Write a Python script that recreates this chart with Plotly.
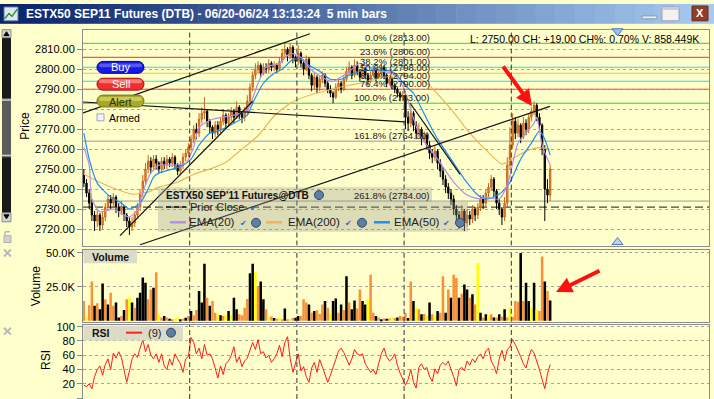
import plotly.graph_objects as go

W, H = 714, 399
FONT = "Liberation Sans, Arial, sans-serif"

# ---------------- data ----------------
title_text = "ESTX50 SEP11 Futures (DTB) - 06/20-06/24 13:13:24\u00a0\u00a05 min bars"
contract_name = "ESTX50 SEP'11 Futures@DTB"
total_volume_k = 858.449
prior_close = 2731

first_open = 2747
closes = [
    # 06/20
    2743, 2738, 2733, 2727, 2724, 2727, 2722, 2726, 2731, 2735,
    2733, 2736, 2731, 2729, 2731, 2727, 2724, 2721, 2723, 2727,
    2731, 2738, 2744, 2750, 2754, 2751, 2755, 2753, 2750, 2754,
    2752, 2755, 2753, 2756, 2752, 2749, 2752, 2756, 2758, 2761,
    # 06/21
    2765, 2770, 2768, 2775, 2778, 2779, 2774, 2771, 2768, 2772,
    2770, 2774, 2777, 2773, 2776, 2779, 2776, 2781, 2778, 2776,
    2779, 2784, 2791, 2797, 2800, 2802, 2798, 2801, 2800, 2803,
    2801, 2802, 2800, 2804, 2808, 2810, 2807, 2811, 2806, 2804,
    # 06/22
    2808, 2803, 2800, 2805, 2797, 2792, 2796, 2791, 2795, 2797,
    2793, 2790, 2788, 2786, 2791, 2793, 2790, 2795, 2799, 2801,
    2797, 2802, 2799, 2796, 2800, 2797, 2794, 2797, 2800, 2796,
    2798, 2801, 2797, 2793, 2795, 2792, 2790, 2788, 2786, 2787,
    # 06/23
    2776, 2773, 2778, 2772, 2768, 2770, 2765, 2767, 2762, 2758,
    2756, 2759, 2753, 2749, 2745, 2741, 2738, 2735, 2730, 2727,
    2725, 2729, 2723, 2727, 2725, 2730, 2727, 2731, 2735, 2733,
    2738, 2741, 2745, 2739, 2733, 2730, 2726, 2733, 2752, 2762,
    # 06/24
    2774, 2768, 2772, 2766, 2773, 2770, 2776, 2779, 2782, 2776,
    2772, 2760, 2740, 2737, 2750,
]
highs = [
    2750, 2745, 2740, 2735, 2729, 2730, 2728, 2729, 2733, 2737,
    2737, 2738, 2737, 2733, 2734, 2732, 2728, 2726, 2726, 2729,
    2733, 2740, 2747, 2753, 2757, 2756, 2757, 2757, 2754, 2756,
    2756, 2757, 2756, 2758, 2757, 2753, 2754, 2758, 2760, 2763,
    2767, 2772, 2773, 2778, 2781, 2786, 2780, 2775, 2772, 2774,
    2774, 2776, 2780, 2778, 2778, 2781, 2780, 2784, 2782, 2779,
    2781, 2787, 2793, 2799, 2803, 2804, 2803, 2803, 2803, 2805,
    2804, 2804, 2803, 2806, 2810, 2813, 2811, 2813, 2812, 2807,
    2812, 2809, 2805, 2807, 2806, 2798, 2798, 2797, 2797, 2799,
    2798, 2794, 2792, 2789, 2793, 2795, 2794, 2797, 2801, 2804,
    2802, 2805, 2804, 2800, 2802, 2801, 2798, 2799, 2802, 2801,
    2800, 2803, 2802, 2798, 2797, 2796, 2793, 2791, 2789, 2789,
    2789, 2779, 2782, 2779, 2774, 2773, 2771, 2769, 2768, 2764,
    2760, 2762, 2760, 2755, 2751, 2747, 2743, 2740, 2737, 2732,
    2729, 2732, 2730, 2730, 2729, 2732, 2731, 2733, 2737, 2737,
    2740, 2743, 2747, 2746, 2740, 2735, 2731, 2736, 2756, 2771,
    2778, 2776, 2775, 2773, 2776, 2775, 2778, 2781, 2784, 2783,
    2778, 2773, 2762, 2745, 2752,
]
lows = [
    2741, 2736, 2730, 2724, 2719, 2721, 2719, 2720, 2724, 2729,
    2730, 2731, 2728, 2726, 2727, 2724, 2721, 2717, 2719, 2721,
    2725, 2729, 2736, 2742, 2748, 2748, 2749, 2750, 2748, 2748,
    2750, 2750, 2751, 2751, 2750, 2747, 2747, 2750, 2754, 2756,
    2759, 2763, 2765, 2766, 2773, 2775, 2771, 2768, 2765, 2766,
    2767, 2768, 2772, 2770, 2771, 2774, 2773, 2775, 2775, 2773,
    2774, 2777, 2782, 2789, 2795, 2798, 2796, 2797, 2798, 2798,
    2799, 2799, 2798, 2799, 2803, 2806, 2804, 2805, 2803, 2801,
    2802, 2801, 2797, 2799, 2795, 2789, 2790, 2788, 2789, 2793,
    2791, 2788, 2786, 2783, 2785, 2789, 2788, 2789, 2794, 2797,
    2795, 2796, 2797, 2794, 2795, 2795, 2792, 2793, 2796, 2794,
    2795, 2797, 2795, 2791, 2792, 2790, 2788, 2786, 2784, 2784,
    2770, 2769, 2771, 2769, 2765, 2766, 2762, 2763, 2760, 2755,
    2753, 2754, 2750, 2746, 2742, 2738, 2735, 2732, 2727, 2723,
    2720, 2723, 2719, 2721, 2722, 2723, 2724, 2725, 2729, 2730,
    2731, 2736, 2739, 2736, 2730, 2727, 2722, 2724, 2731, 2750,
    2760, 2765, 2766, 2763, 2765, 2767, 2768, 2774, 2777, 2774,
    2769, 2757, 2724, 2733, 2734,
]
volume_k = [
    14.6, 3, 11.4, 29, 11, 13, 8.5, 27.5, 15.8, 12,
    20.7, 11, 13.4, 2.4, 3.6, 8, 15.8, 17, 13.4, 9.7,
    17, 20.7, 32, 28, 15.8, 23, 24.3, 35.8, 4.9, 2.4,
    3.6, 2.4, 1.5, 1.2, 1.5, 2.4, 1.2, 1.5, 2.2, 3.6,
    7.3, 4.1, 8, 21.9, 13.4, 42, 17, 11, 14.6, 6,
    4.9, 4, 3.6, 4.5, 7.3, 4.1, 17, 8.5, 4.9, 4,
    9.7, 16, 35, 42, 35.8, 25.5, 29, 15.8, 8.5, 2.4,
    3.2, 2, 1.5, 2.4, 1.2, 9, 1.2, 1.5, 2, 2.2,
    3.6, 3.6, 15.8, 13.4, 12, 6, 7.3, 7.8, 5, 12,
    14.6, 9.7, 5, 14.6, 16.5, 6, 12, 8, 32.8, 13.4,
    8.5, 15, 9, 23, 14.6, 12, 15.8, 34, 6, 3.6,
    2.4, 1.2, 1.7, 1.5, 1.7, 2.4, 2, 2.4, 3.6, 3,
    6, 2, 29, 14.6, 9.7, 8.5, 4.9, 5, 3.6, 13.4,
    4.9, 3.6, 7.3, 6, 32.8, 6, 23, 17, 34, 31.6,
    17, 20, 26.8, 23, 17, 19.5, 12, 42.6, 6, 2.4,
    4.9, 3.6, 4.9, 2.4, 2.4, 4.9, 3, 8.5, 2.4, 10,
    3, 14.6, 14, 50, 14.6, 28, 14.6, 9.7, 28, 8,
    7.3, 47.4, 29, 22, 15,
]
# o = orange, k = black, y = yellow volume bar
volume_kind = list((
    "oyook okkok ookko koyko kkkko okoyo kokoy ykoko "
    "kookk kokoo ykoyk ykkoo ookky okkoy okoyo koyok "
    "koook okooo koykk okoko kkook kyook okoko yokoo "
    "okoky okoyk oykoo kokoo kokko koyko kyoko kokoy "
    "oooko kkyky ookok").replace(" ", ""))
rsi9 = [
    18, 16, 20, 13, 30, 40, 45, 32, 47, 55, 40, 63, 56, 65, 57, 38, 22, 38, 55, 62,
    57, 70, 82, 65, 75, 60, 55, 62, 50, 62, 45, 40, 55, 46, 62, 55, 48, 36, 55, 58,
    85, 78, 62, 70, 55, 75, 60, 62, 55, 42, 28, 45, 33, 48, 52, 60, 72, 50, 58, 44,
    52, 56, 68, 78, 68, 82, 62, 65, 56, 60, 50, 55, 62, 74, 58, 78, 86, 55, 36, 50,
    62, 38, 44, 30, 22, 42, 50, 36, 54, 44, 34, 22, 32, 42, 54, 66, 70, 64, 55, 46,
    55, 68, 62, 60, 62, 48, 42, 36, 40, 33, 48, 62, 70, 58, 52, 55, 62, 46, 35, 26,
    18, 26, 40, 22, 14, 43, 48, 40, 43, 30, 23, 41, 34, 46, 50, 46, 52, 40, 30, 17,
    40, 43, 38, 52, 46, 55, 50, 58, 62, 55, 66, 70, 52, 45, 34, 55, 67, 52, 68, 72,
    82, 75, 67, 58, 48, 42, 57, 68, 63, 52, 40, 26, 13, 34, 47,
]
ema20_bar = [0, 2, 3, 6, 11, 15, 17, 20, 22, 25, 28, 33, 38, 41, 43, 48, 56, 61, 65, 68,
             73, 77, 81, 85, 91, 93, 97, 100, 103, 109, 115, 119, 125, 132, 138, 143,
             148, 150, 155, 158, 162, 165, 168, 169, 171, 174]
ema20_val = [2761, 2752, 2735, 2728.6, 2730, 2727, 2726, 2729.5, 2738.5, 2748, 2752, 2752,
             2753, 2761, 2771, 2775, 2777, 2779.6, 2793, 2801, 2803, 2808, 2806, 2799.5,
             2794.5, 2794, 2797, 2800, 2803, 2799.5, 2798, 2791.5, 2768, 2755, 2743.5,
             2737, 2735, 2736, 2735, 2742, 2763, 2768, 2773, 2776, 2762, 2752]
ema50_bar = [0, 2, 5, 10, 14, 17, 21, 24, 26, 28, 33, 37, 40, 43, 47, 50, 56, 61, 63, 67,
             71, 74, 78, 81, 84, 88, 92, 96, 99, 103, 110, 115, 121, 123, 128, 132, 137,
             142, 147, 150, 153, 156, 159, 163, 167, 170, 172, 174]
ema50_val = [2768, 2755, 2743, 2736, 2733, 2730, 2733, 2740, 2746, 2748, 2750, 2752, 2755,
             2762, 2768, 2769, 2773, 2777, 2783, 2793, 2798, 2800, 2805, 2805, 2802, 2799,
             2795, 2795, 2797, 2799, 2799.5, 2799, 2790.5, 2788, 2775, 2765, 2755, 2745,
             2737, 2735, 2736, 2738.5, 2743.5, 2755, 2763, 2769, 2765, 2757]
ema200_bar = [0, 6, 12, 18, 24, 28, 35, 41, 47, 53, 59, 65, 71, 77, 83, 91, 99, 103, 112,
              120, 124, 128, 137, 144, 152, 156, 162, 165, 170, 174]
ema200_val = [2747.4, 2743.4, 2740, 2737.5, 2738.5, 2741, 2743.5, 2747.4, 2750, 2753.4,
              2760, 2766.7, 2776.6, 2783, 2786.5, 2789.5, 2792, 2793, 2796, 2797, 2796,
              2793, 2780, 2768, 2757, 2752.5, 2756.8, 2759, 2760.8, 2760]
session_start_bar = [40, 80, 120, 160]
fib_pct = ["0.0%", "23.6%", "38.2%", "50.0%", "61.8%", "76.4%", "100.0%", "161.8%", "261.8%"]
fib_price = [2813, 2806, 2801, 2798, 2794, 2790, 2783, 2764, 2734]
# hand-drawn trend lines (bar, price) -> (bar, price)
trend_b0 = [-0.3, -0.3, 121.7, 21, 13.5]
trend_p0 = [2778.2, 2783.6, 2783.1, 2712.1, 2716.7]
trend_b1 = [84.4, 119.8, 140.4, 173.9, 63]
trend_p1 = [2817.8, 2773.7, 2747.4, 2781.4, 2784]
price_ticks = [2720, 2730, 2740, 2750, 2760, 2770, 2780, 2790, 2800, 2810]
volume_ticks_k = [25, 50]
rsi_ticks = [0, 20, 40, 60, 80, 100]

n = len(closes)
assert len(highs) == n and len(lows) == n and len(volume_k) == n
assert len(volume_kind) == n and len(rsi9) == n
bars = list(range(n))
opens = [first_open] + closes[:-1]

# ---------------- geometry (pixels of the 714x399 window) ----------------
bar_px, first_center_px = 2.68, 83.84
x_range = [(83 - first_center_px) / bar_px, (709 - first_center_px) / bar_px]
def py(y):
    return 1 - y / H

BG = "#FFFFCC"
ORANGE = "#f7923a"
kind_color = {"o": ORANGE, "k": "#000000", "y": "#ffff00"}
EMA_COL = {"20": "#b88cf0", "50": "#1f8fef", "200": "#f0b458"}

fig = go.Figure()
fig.add_trace(go.Candlestick(
    x=bars, open=opens, high=highs, low=lows, close=closes, xaxis="x", yaxis="y",
    increasing=dict(line=dict(color="#c8641c", width=1), fillcolor=ORANGE),
    decreasing=dict(line=dict(color="#000000", width=1), fillcolor="#000000"),
    whiskerwidth=0, hoverinfo="skip"))
for bx, vals, col in [(ema200_bar, ema200_val, EMA_COL["200"]),
                      (ema50_bar, ema50_val, EMA_COL["50"]),
                      (ema20_bar, ema20_val, EMA_COL["20"])]:
    fig.add_trace(go.Scatter(x=bx, y=vals, mode="lines", xaxis="x", yaxis="y",
                             line=dict(color=col, width=1.2, shape="spline", smoothing=0.6),
                             hoverinfo="skip"))
fig.add_trace(go.Bar(x=bars, y=volume_k, xaxis="x2", yaxis="y2",
                     marker=dict(color=[kind_color[k] for k in volume_kind], line=dict(width=0)),
                     hoverinfo="skip"))
fig.add_trace(go.Scatter(x=bars, y=rsi9, mode="lines", xaxis="x3", yaxis="y3",
                         line=dict(color="#ff1a1a", width=1), hoverinfo="skip"))

AXC = "#8c8c8c"
def xax(anchor):
    return dict(domain=[83 / W, 709 / W], range=x_range, anchor=anchor, showticklabels=False,
                ticks="", showgrid=False, zeroline=False, showline=True, mirror=True,
                linecolor=AXC, fixedrange=True)
def yax(dom, rng, tv, tt):
    return dict(domain=dom, range=rng, tickvals=tv, ticktext=tt, ticks="outside", ticklen=5,
                tickcolor=AXC, tickfont=dict(family=FONT, size=11, color="#000000"),
                showgrid=True, gridcolor="#a4a4a4", griddash="dot", gridwidth=1,
                zeroline=False, showline=True, mirror=True, linecolor=AXC, fixedrange=True)

xa1 = xax("y"); xa1["rangeslider"] = dict(visible=False)
layout = dict(
    width=W, height=H, autosize=False, margin=dict(l=0, r=0, t=0, b=0, pad=0),
    paper_bgcolor=BG, plot_bgcolor=BG, showlegend=False, hovermode=False, bargap=0.05,
    xaxis=xa1, xaxis2=xax("y2"), xaxis3=xax("y3"),
    yaxis=yax([py(244), py(26)], [2711.72, 2819.8], price_ticks, [f"{v:.2f}" for v in price_ticks]),
    yaxis2=yax([py(321), py(248)], [-0.73, 52.55], volume_ticks_k, [f"{v:.1f}K" for v in volume_ticks_k]),
    yaxis3=yax([py(399), py(324)], [-1.39, 102.78], rsi_ticks, [str(v) for v in rsi_ticks]),
)

shapes, ann = [], []

def rect(x0, y0, x1, y1, fill, line=None, lw=0):
    shapes.append(dict(type="rect", xref="paper", yref="paper", x0=x0 / W, x1=x1 / W,
                       y0=py(y1), y1=py(y0), fillcolor=fill,
                       line=dict(color=line or fill, width=lw), layer="above"))
def seg(x0, y0, x1, y1, color, lw=1, dash="solid"):
    shapes.append(dict(type="line", xref="paper", yref="paper", x0=x0 / W, x1=x1 / W,
                       y0=py(y0), y1=py(y1), line=dict(color=color, width=lw, dash=dash),
                       layer="above"))
def path(pts, fill, line, lw=1):
    d = "M" + " L".join(f"{x / W:.5f},{py(y):.5f}" for x, y in pts) + " Z"
    shapes.append(dict(type="path", xref="paper", yref="paper", path=d, fillcolor=fill,
                       line=dict(color=line, width=lw), layer="above"))
def circle(cx, cy, r, fill, line):
    shapes.append(dict(type="circle", xref="paper", yref="paper", x0=(cx - r) / W,
                       x1=(cx + r) / W, y0=py(cy + r), y1=py(cy - r), fillcolor=fill,
                       line=dict(color=line, width=1), layer="above"))
def pill(x0, y0, x1, y1, fill, line):
    r = (y1 - y0) / 2; k = 0.5523 * r; ym = (y0 + y1) / 2
    p = lambda x, y: f"{x / W:.5f},{py(y):.5f}"
    d = (f"M{p(x0 + r, y0)} L{p(x1 - r, y0)} C{p(x1 - r + k, y0)} {p(x1, ym - k)} {p(x1, ym)} "
         f"C{p(x1, ym + k)} {p(x1 - r + k, y1)} {p(x1 - r, y1)} L{p(x0 + r, y1)} "
         f"C{p(x0 + r - k, y1)} {p(x0, ym + k)} {p(x0, ym)} "
         f"C{p(x0, ym - k)} {p(x0 + r - k, y0)} {p(x0 + r, y0)} Z")
    shapes.append(dict(type="path", xref="paper", yref="paper", path=d, fillcolor=fill,
                       line=dict(color=line, width=1), layer="above"))
def text(x, y, s, size=11, color="#000000", anchor="left", bold=False, angle=0, family=FONT):
    ann.append(dict(xref="paper", yref="paper", x=x / W, y=py(y), text=s, showarrow=False,
                    xanchor=anchor, yanchor="middle", textangle=angle,
                    font=dict(family=family, size=size, color=color,
                              weight="bold" if bold else "normal")))

# fibonacci levels (drawn under the candles)
fib_colors = ["#22dd22", "#ff2a2a", "#22dff0", "#ffc020", "#22dff0", "#ff2a2a", "#22dd22",
              "#9a9a9a", "#9a9a9a"]
for price, col in zip(fib_price, fib_colors):
    shapes.append(dict(type="line", xref="x", yref="y", x0=x_range[0], x1=x_range[1],
                       y0=price, y1=price, line=dict(color=col, width=1), layer="below"))
# prior close
shapes.append(dict(type="line", xref="x", yref="y", x0=x_range[0], x1=x_range[1],
                   y0=prior_close, y1=prior_close,
                   line=dict(color="#444444", width=1.2, dash="8px,4px"), layer="below"))
# trend lines
for b0, p0, b1, p1 in zip(trend_b0, trend_p0, trend_b1, trend_p1):
    shapes.append(dict(type="line", xref="x", yref="y", x0=b0, y0=p0, x1=b1, y1=p1,
                       line=dict(color="#111111", width=1.2), layer="above"))
# session separators
ranges = {"y": [2711.72, 2819.8], "y2": [-0.73, 52.55], "y3": [-1.39, 102.78]}
for b in session_start_bar:
    for xr_, yr_ in [("x", "y"), ("x2", "y2"), ("x3", "y3")]:
        shapes.append(dict(type="line", xref=xr_, yref=yr_, x0=b - 0.5, x1=b - 0.5,
                           y0=ranges[yr_][0], y1=ranges[yr_][1],
                           line=dict(color="#333333", width=1, dash="5px,3px"),
                           layer="above"))

for pct, price in zip(fib_pct, fib_price):
    ann.append(dict(xref="paper", yref="y", x=432 / W, y=price, yshift=5.5,
                    text=f"{pct} ({price:.2f})", showarrow=False, xanchor="right",
                    yanchor="middle", font=dict(family=FONT, size=9.5, color="#202020")))

# ---- window chrome ----
c0, c1 = (10, 36, 106), (166, 202, 240)
nstr = 36
for i in range(nstr):
    t = i / (nstr - 1)
    col = "rgb({},{},{})".format(*[int(a + (b - a) * t) for a, b in zip(c0, c1)])
    rect(i * W / nstr, 0, (i + 1) * W / nstr + 0.5, 20, col)
rect(4, 3, 18, 17, "#dfe8f2", "#5a7aa0", 1)
path([(5, 14), (9, 9), (12, 12), (17, 5), (17, 6), (12, 13), (9, 10), (5, 15)], "#2a9a2a", "#2a9a2a", 1)
text(24, 10, title_text, size=12, color="#ffffff", bold=True)
rect(642, 12, 657, 15, "#e4ecf4", "#8898b0", 1)
rect(662, 3, 679, 17, "#f2f2f2", "#9aa0b0", 1)
rect(662, 3, 679, 6, "#c8ccd8")
rect(692, 2, 708, 17, "#8f3f28", "#6a2a18", 1)
text(700, 9.5, "X", size=11, color="#ffffff", anchor="center", bold=True)

# scrollbar and side icons
rect(2, 26, 11, 220, "#1a1a1a")
rect(2, 26, 11, 34, "#d4d4d4", "#909090", 1)
path([(4, 32), (9, 32), (6.5, 28)], "#000000", "#000000", 1)
rect(2, 95, 11, 155, "#5c5c5c")
seg(2, 97, 11, 97, "#d0d0d0", 1.5); seg(2, 153, 11, 153, "#d0d0d0", 1.5)
rect(2, 211, 11, 220, "#d4d4d4", "#909090", 1)
path([(4, 213), (9, 213), (6.5, 217)], "#000000", "#000000", 1)
rect(4, 234, 11, 241, "#d2d2d2", "#b0b0b0", 1)
seg(5, 234, 5, 230, "#b8b8b8", 1.5); seg(5, 230, 10, 230, "#b8b8b8", 1.5)
for yc in (252, 331):
    seg(4, yc - 4, 11, yc + 3, "#b8b8b8", 2)
    seg(4, yc + 3, 11, yc - 4, "#b8b8b8", 2)

# axis titles
text(25, 123, "Price", size=12, anchor="center", angle=-90)
text(36, 285, "Volume", size=12, anchor="center", angle=-90)
text(46.5, 360, "RSI", size=12, anchor="center", angle=-90)

# order buttons
pill(97, 58, 144, 70, "#1818e8", "#0000a0")
pill(99, 60, 142, 64, "rgba(140,140,255,0.55)", "rgba(0,0,0,0)")
text(120.5, 64, "Buy", size=11, color="#ffffff", anchor="center")
pill(97, 75, 144, 87, "#f03030", "#b01010")
pill(99, 76, 142, 80, "rgba(255,170,170,0.6)", "rgba(0,0,0,0)")
text(120.5, 81, "Sell", size=11, color="#ffffff", anchor="center")
pill(97, 92, 144, 104, "#a8a828", "#787810")
pill(99, 94, 142, 98, "rgba(225,225,120,0.6)", "rgba(0,0,0,0)")
text(120.5, 98.5, "Alert", size=11, color="#303010", anchor="center")
rect(97, 111, 104, 118, "#f4f4ff", "#a0a0c8", 1)
text(107, 115, "Armed", size=10.5)

# info line
last = closes[-1]
info = (f"L: {last:.2f} CH: {last - prior_close:+.2f} CH%: "
        f"{(last - prior_close) / prior_close * 100:.2f}% V: {total_volume_k:.3f}K")
text(701, 35, info, size=10.5, anchor="right")
path([(612, 25), (623, 25), (617.5, 32)], "#9cc0ee", "#4a78c0", 1)
path([(612, 243), (623, 243), (617.5, 236)], "#b8d4f4", "#4a78c0", 1)

# price legend box
GREY = "rgba(150,150,140,0.33)"
rect(158, 185, 432, 200, GREY)
rect(158, 200, 468, 230, GREY)
text(164, 193, contract_name, size=10, color="#111111", bold=True)
circle(319, 193, 4.5, "#5d7fa6", "#2c4a70")
seg(166, 205, 186, 205, "#333333", 2, "5px,3px")
text(188, 205.5, "Prior Close", size=11, color="#222222")
def check(x, y):
    text(x, y, "\u2714", size=8, color="#2a62d8", anchor="center", family="DejaVu Sans")
check(253, 207)
for lx, key, lab, tx, cx, gx in [(170, "20", "EMA(20)", 187, 243.5, 256),
                                 (266, "200", "EMA(200)", 286, 348.5, 362),
                                 (374, "50", "EMA(50)", 392, 446.5, 460)]:
    seg(lx, 220.5, lx + 16, 220.5, EMA_COL[key], 2.5)
    text(tx, 220.5, lab, size=11.5, color="#222222")
    check(cx, 221.5)
    circle(gx, 221, 4.5, "#5d7fa6", "#2c4a70")

# volume / rsi panel labels
rect(83.5, 248.5, 137, 262, "#dcdcc6")
text(90, 255.5, "Volume", size=10.5, color="#111111", bold=True)
rect(83.5, 325, 183, 340, "#dcdcc6")
text(90, 332.5, "RSI", size=10.5, color="#111111", bold=True)
seg(126, 332, 142, 332, "#ff2020", 2)
text(146, 332.5, "(9)", size=11, color="#222222")
circle(171, 332, 4.5, "#5d7fa6", "#2c4a70")

# red arrows
for hx, hy, axp, ayp in [(532, 103, -30, -41), (556, 291, 45, -22)]:
    ann.append(dict(xref="paper", yref="paper", x=hx / W, y=py(hy), ax=axp, ay=ayp, text="",
                    showarrow=True, arrowhead=2, arrowsize=0.8, arrowwidth=4,
                    arrowcolor="#ff1010", standoff=0))

layout["shapes"] = shapes
layout["annotations"] = ann
fig.update_layout(**layout)
fig.write_html("out.html")
